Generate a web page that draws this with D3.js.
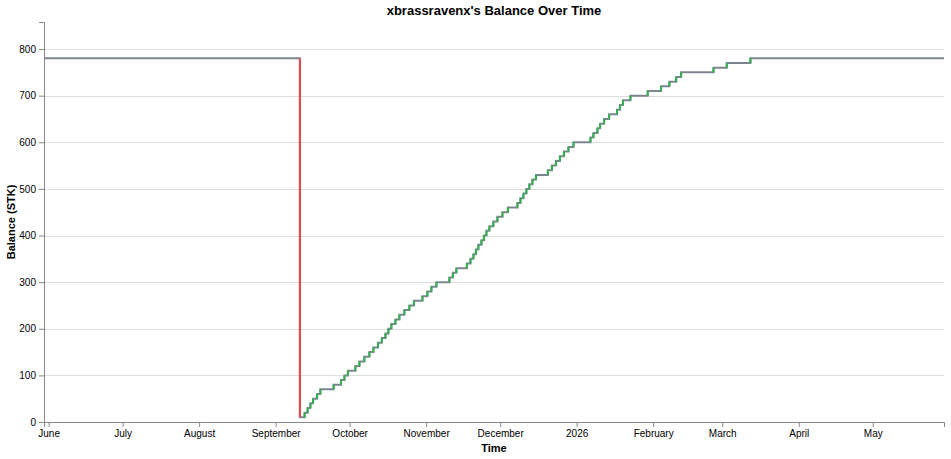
<!DOCTYPE html>
<html>
<head>
<meta charset="utf-8">
<script src="https://cdn.jsdelivr.net/npm/d3@7"></script>
<style>
body{margin:0;background:#fff}
svg{display:block;font-family:"Liberation Sans",Arial,Helvetica,sans-serif}
</style>
</head>
<body>
<svg id="chart" width="951" height="459"></svg>
<script>
// balance after each transaction
const dates=[
"2025-05-30T03:00","2025-09-10T20:00",
"2025-09-12T18:00","2025-09-13T23:00","2025-09-15T02:00","2025-09-16T04:00","2025-09-17T19:00","2025-09-19T03:00",
"2025-09-24T12:00","2025-09-27T12:00","2025-09-28T21:00","2025-09-30T07:00",
"2025-10-03T08:00","2025-10-04T23:00","2025-10-06T23:00","2025-10-09T00:00","2025-10-10T15:00",
"2025-10-12T11:00","2025-10-14T01:00","2025-10-15T12:00","2025-10-16T17:00","2025-10-17T22:00",
"2025-10-19T13:00","2025-10-21T04:00","2025-10-23T04:00","2025-10-25T05:00","2025-10-27T01:00",
"2025-10-30T12:00","2025-11-01T12:00","2025-11-03T03:00","2025-11-05T04:00",
"2025-11-10T10:00","2025-11-11T20:00","2025-11-13T06:00",
"2025-11-17T12:00","2025-11-18T23:00","2025-11-20T04:00","2025-11-21T04:00","2025-11-22T04:00",
"2025-11-23T10:00","2025-11-24T10:00","2025-11-25T10:00","2025-11-26T15:00","2025-11-28T06:00",
"2025-11-29T21:00","2025-12-01T22:00","2025-12-04T03:00",
"2025-12-08T00:00","2025-12-09T05:00","2025-12-10T10:00","2025-12-11T15:00","2025-12-12T20:00",
"2025-12-14T02:00","2025-12-15T12:00",
"2025-12-20T08:00","2025-12-21T23:00","2025-12-23T14:00","2025-12-25T05:00","2025-12-26T20:00",
"2025-12-28T16:00","2025-12-30T17:00",
"2026-01-06T14:00","2026-01-07T19:00","2026-01-09T10:00","2026-01-10T12:00","2026-01-12T03:00","2026-01-14T04:00",
"2026-01-17T08:00","2026-01-18T13:00","2026-01-19T18:00","2026-01-22T19:00",
"2026-01-29T19:00","2026-02-04T04:00","2026-02-07T14:00","2026-02-10T08:00","2026-02-12T08:00",
"2026-02-25T11:00","2026-03-02T20:00","2026-03-12T10:00",
"2026-05-29T21:00"
]
const balances=[
780,10,
20,30,40,50,60,70,
80,90,100,110,
120,130,140,150,160,
170,180,190,200,210,
220,230,240,250,260,
270,280,290,300,
310,320,330,
340,350,360,370,380,
390,400,410,420,430,
440,450,460,
470,480,490,500,510,
520,530,
540,550,560,570,580,
590,600,
610,620,630,640,650,660,
670,680,690,700,
710,720,730,740,750,
760,770,780,
780
]
const xDomain=["2025-05-30T03:00","2026-05-29T21:00"]
const yDomain=[0,858]
const yTicks=[0,100,200,300,400,500,600,700,800]
const monthTicks=["2025-06-01","2025-07-01","2025-08-01","2025-09-01","2025-10-01","2025-11-01",
"2025-12-01","2026-01-01","2026-02-01","2026-03-01","2026-04-01","2026-05-01"]
const monthLabels=["June","July","August","September","October","November",
"December","2026","February","March","April","May"]

let svg=d3.select("#chart")
let W=951,H=459
let margin={top:22,right:7,bottom:37,left:44}
let pw=W-margin.left-margin.right
let ph=H-margin.top-margin.bottom

let data=dates.map((d,i)=>({date:new Date(d),value:balances[i]}))

let x=d3.scaleTime()
.domain(xDomain.map(d=>new Date(d)))
.range([0,pw])
let y=d3.scaleLinear()
.domain(yDomain)
.range([ph,0])

let g=svg.append("g").attr("transform","translate("+margin.left+","+margin.top+")")

// grid
g.append("g")
.selectAll("line")
.data(yTicks)
.enter()
.append("line")
.attr("x1",0).attr("x2",pw)
.attr("y1",d=>Math.round(y(d))+0.5).attr("y2",d=>Math.round(y(d))+0.5)
.attr("stroke","#ddd").attr("stroke-width",1)

// axes
let yAxis=g.append("g")
.call(d3.axisLeft(y).tickValues(yTicks).tickSize(5).tickPadding(3))
let tickDates=monthTicks.map(d=>new Date(d+"T00:00"))
let xAxis=g.append("g")
.attr("transform","translate(0,"+ph+")")
.call(d3.axisBottom(x).tickValues(tickDates).tickSize(5).tickPadding(3)
.tickFormat((d,i)=>monthLabels[i]))

;[xAxis,yAxis].forEach(a=>{
a.select(".domain").attr("stroke","#888")
a.selectAll(".tick line").attr("stroke","#888")
a.selectAll(".tick text").attr("fill","#000").attr("font-size",10)
.attr("font-family","'Liberation Sans',Arial,sans-serif")
})

// balance line
let line=d3.line()
.x(d=>x(d.date))
.y(d=>y(d.value))
.curve(d3.curveStepAfter)

g.append("path")
.datum(data)
.attr("d",line)
.attr("fill","none")
.attr("stroke","#7d8592")
.attr("stroke-width",2)

// changes
let changes=data.slice(1).map((d,i)=>({date:d.date,from:data[i].value,to:d.value}))
.filter(d=>d.from!==d.to)

g.append("g")
.selectAll("line")
.data(changes)
.enter()
.append("line")
.attr("x1",d=>x(d.date)).attr("x2",d=>x(d.date))
.attr("y1",d=>y(d.from)).attr("y2",d=>y(d.to))
.attr("stroke",d=>d.to>d.from?"#2db34a":"#e8474a")
.attr("stroke-width",2)

// titles
svg.append("text")
.attr("x",margin.left+pw/2).attr("y",15)
.attr("text-anchor","middle")
.attr("font-size",13).attr("font-weight","bold")
.text("xbrassravenx's Balance Over Time")

svg.append("text")
.attr("x",margin.left+pw/2).attr("y",452)
.attr("text-anchor","middle")
.attr("font-size",11).attr("font-weight","bold")
.text("Time")

svg.append("text")
.attr("transform","translate(15,"+(margin.top+ph/2)+") rotate(-90)")
.attr("text-anchor","middle")
.attr("font-size",11).attr("font-weight","bold")
.text("Balance (STK)")
</script>
</body>
</html>
